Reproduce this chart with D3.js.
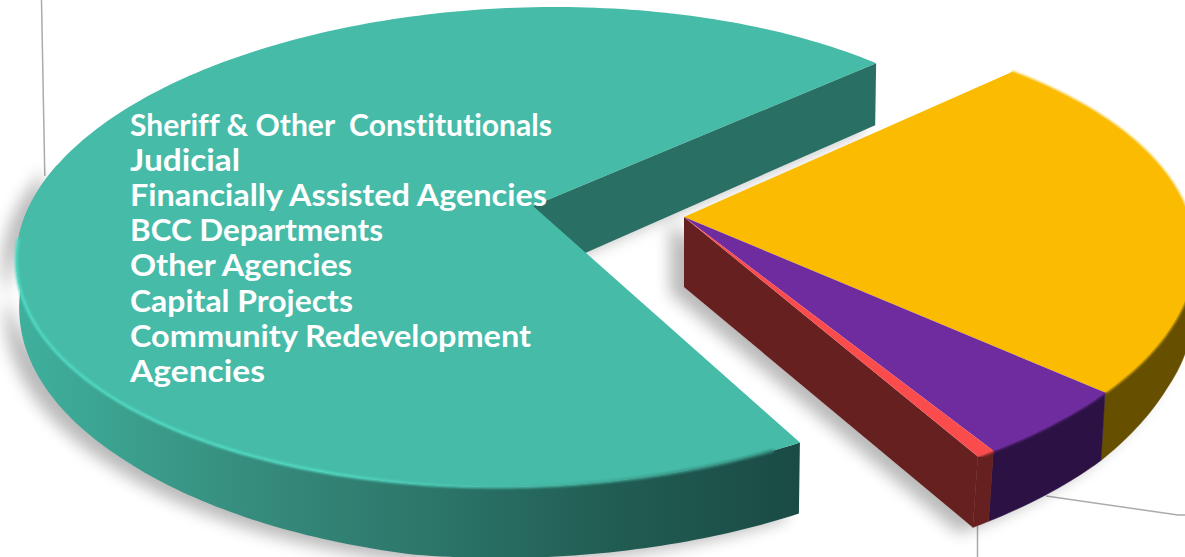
<!doctype html>
<html>
<head>
  <script src="https://cdnjs.cloudflare.com/ajax/libs/d3/7.8.5/d3.min.js" type="text/JavaScript"></script>
  <style>
    html, body { margin: 0; background: #fff; }
    svg { display: block; }
    .legend text { font-family: Lato, sans-serif; font-weight: 700; font-size: 30px; fill: #fff; white-space: pre; font-variant-ligatures: none; }
  </style>
</head>
<body>
<svg height="557" width="1185"></svg>
<script type="text/javascript">
// share of the budget
var sliceNames = ["yellow", "purple", "red", "teal"];
var sliceValues = [23.4, 5.05, 0.6, 70.95];
var faceColors = ["#FABB00", "#6E2C9E", "#FA4C4C", "#46BBA8"];
var sideColors = ["#665000", "#2C1244", "#66201F", "url(#tealSide)"];
var legendLines = [
  "Sheriff & Other  Constitutionals",
  "Judicial",
  "Financially Assisted Agencies",
  "BCC Departments",
  "Other Agencies",
  "Capital Projects",
  "Community Redevelopment",
  "Agencies"
];
// the original face is wider than Lato, so each line gets stretched to its measured width
var legendWidths = [422, 110, 417, 253, 222, 223, 401, 135];

var rad = Math.PI / 180;
var svg = d3.select("svg");

// the pie is tipped over, so the rim is a slightly sheared ellipse
var tealView = {
  apex: [533, 206], ex: 527, ey: 247, rx: 510, ry: 240, shear: -0.116, turn: 2.6,
  lean: d3.scaleLinear().domain([145, 270, 300, 400]).range([-1, 3, 0, -1]).clamp(true),
  from: 0, to: 290
};
var rightView = {
  apex: [684, 217], ex: 681, ey: 265, rx: 513, ry: 243, shear: -0.1, turn: 0,
  lean: d3.scaleLinear().domain([85, 142]).range([-2, -5]).clamp(true),
  from: 85, to: 360
};
var depth = d3.scaleLinear()
  .domain([40, 105, 122, 142, 190, 230, 270, 400])
  .range([62, 60, 68, 71, 71, 56, 46, 62]);

var pie = d3.pie().sort(null).startAngle(37.4 * rad).endAngle(397.4 * rad);
var arcs = pie(sliceValues);
var line = d3.line();

function rim(view, deg) {
  var t = deg * rad, y = view.ey - view.ry * Math.cos(t);
  return [view.ex + view.shear * (y - view.ey) + view.rx * Math.sin(t), y];
}
function drop(view, deg) {
  var p = rim(view, deg);
  return [p[0] + view.lean(deg), p[1] + depth(deg)];
}
function steps(a, b) {
  return d3.range(a, b, 1).concat([b]);
}
function facePath(view, arc) {
  var a = arc.startAngle / rad + view.turn, b = arc.endAngle / rad + view.turn;
  return line([view.apex].concat(steps(a, b).map(d => rim(view, d)))) + "Z";
}
function sidePath(view, arc) {
  var a = Math.max(arc.startAngle / rad + view.turn, view.from);
  var b = Math.min(arc.endAngle / rad + view.turn, view.to);
  if (b <= a) return null;
  var s = steps(a, b);
  return line(s.map(d => rim(view, d)).concat(s.slice().reverse().map(d => drop(view, d)))) + "Z";
}
function cutPath(view, arc) {
  var b = arc.endAngle / rad + view.turn;
  var a = view.apex, h = 70;
  return line([a, rim(view, b), drop(view, b), [a[0], a[1] + h]]) + "Z";
}

var defs = svg.append("defs");
defs.append("filter").attr("id", "soft").attr("x", "-10%").attr("y", "-10%").attr("width", "120%").attr("height", "120%")
  .append("feGaussianBlur").attr("stdDeviation", 8);
defs.append("filter").attr("id", "lip").attr("x", "-5%").attr("y", "-5%").attr("width", "110%").attr("height", "110%")
  .append("feGaussianBlur").attr("stdDeviation", 0.9);
var sideGrad = defs.append("linearGradient").attr("id", "tealSide")
  .attr("gradientUnits", "userSpaceOnUse").attr("x1", 20).attr("x2", 805).attr("y1", 0).attr("y2", 0);
[[0, "#3FB09D"], [0.27, "#378F7F"], [0.55, "#2B7367"], [0.75, "#215D53"], [1, "#1A4A44"]]
  .forEach(d => sideGrad.append("stop").attr("offset", d[0]).attr("stop-color", d[1]));
var lipGrad = defs.append("linearGradient").attr("id", "tealLip")
  .attr("gradientUnits", "userSpaceOnUse").attr("x1", 20).attr("x2", 805).attr("y1", 0).attr("y2", 0);
[[0, "#4FD9C2"], [0.4, "#50D8C0"], [0.62, "#46BBA8"], [1, "#2F7F72"]]
  .forEach(d => lipGrad.append("stop").attr("offset", d[0]).attr("stop-color", d[1]));

// thin grey leader lines behind the pie
var leaders = svg.append("g").attr("fill", "none").attr("stroke", "#ABABAB").attr("stroke-width", 1.5);
leaders.append("path").attr("d", "M41.5,0L44.8,176");
leaders.append("path").attr("d", "M1046,496L1178,515L1185,515");
leaders.append("path").attr("d", "M977.5,526V557");

// drop shadow, one blurred copy of the whole pie
var tealArcs = arcs.filter((d, i) => i == 3);
var rightArcs = arcs.filter((d, i) => i < 3);
var shadow = svg.append("g").attr("filter", "url(#soft)").attr("transform", "translate(-14,6)")
  .attr("fill", "#000").attr("opacity", 0.27);
tealArcs.forEach(d => {
  shadow.append("path").attr("d", sidePath(tealView, d));
  shadow.append("path").attr("d", cutPath(tealView, d));
});
rightArcs.forEach(d => {
  var p = sidePath(rightView, d);
  if (p) shadow.append("path").attr("d", p);
});
shadow.append("path").attr("d", cutPath(rightView, arcs[2]));

// teal slice
var teal = svg.append("g");
teal.append("path").attr("d", cutPath(tealView, arcs[3])).attr("fill", "#296F63");
teal.append("path").attr("d", sidePath(tealView, arcs[3])).attr("fill", sideColors[3]);
teal.append("path").attr("d", facePath(tealView, arcs[3])).attr("fill", faceColors[3]);
teal.append("path")
  .attr("d", line(steps(148, 272).map(d => rim(tealView, d))))
  .attr("fill", "none").attr("stroke", "url(#tealLip)").attr("stroke-width", 3).attr("filter", "url(#lip)");

// the three slices pulled out to the right
var right = svg.append("g");
right.append("path").attr("d", cutPath(rightView, arcs[2])).attr("fill", sideColors[2]);
rightArcs.forEach((d, i) => {
  var p = sidePath(rightView, d);
  if (p) right.append("path").attr("d", p).attr("fill", sideColors[i]).attr("stroke", sideColors[i]).attr("stroke-width", 0.5);
});
// soft edge between top and side
rightArcs.forEach((d, i) => {
  right.append("path")
    .attr("d", line(steps(d.startAngle / rad, d.endAngle / rad).map(a => rim(rightView, a))))
    .attr("fill", "none").attr("stroke", faceColors[i]).attr("stroke-width", 2.5).attr("filter", "url(#lip)");
});
right.selectAll("path.face").data(rightArcs).enter().append("path")
  .attr("class", "face")
  .attr("d", d => facePath(rightView, d))
  .attr("fill", (d, i) => faceColors[i]);

// legend text sits on the teal slice
svg.append("g").attr("class", "legend")
  .selectAll("text").data(legendLines).enter().append("text")
  .attr("x", 130)
  .attr("y", (d, i) => 135.5 + i * 35.2)
  .attr("textLength", (d, i) => legendWidths[i])
  .attr("lengthAdjust", "spacingAndGlyphs")
  .text(d => d);
</script>
</body>
</html>
